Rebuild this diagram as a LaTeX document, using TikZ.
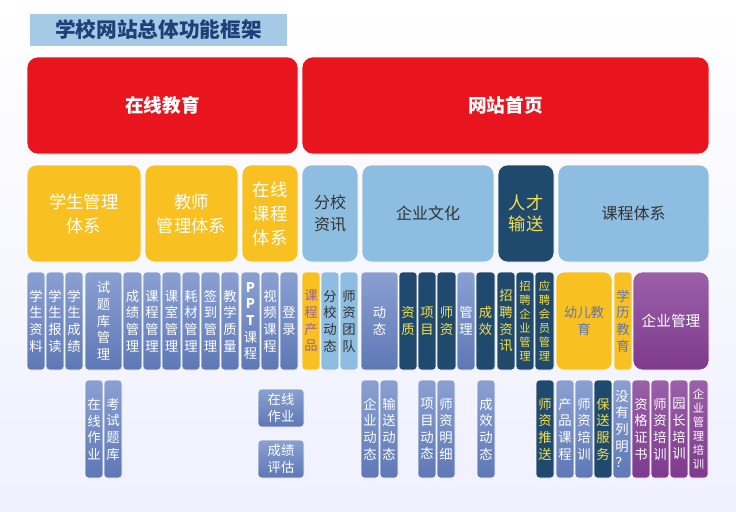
\documentclass[tikz,border=0pt]{standalone}
\usepackage{fontspec}
\setmainfont{Noto Sans CJK SC}
\definecolor{redc}{HTML}{E8141E}
\definecolor{yel}{HTML}{F8C020}
\definecolor{navy}{HTML}{1F4A6E}
\definecolor{lblue}{HTML}{8DBDE0}
\definecolor{mtop}{HTML}{8AA0D2}
\definecolor{mbot}{HTML}{5E78B6}
\definecolor{ptop}{HTML}{9A60A8}
\definecolor{pbot}{HTML}{7E3A8E}
\definecolor{ttl}{HTML}{1F3F78}
\definecolor{ytxt}{HTML}{F4E04A}
\newcommand\bx[7]{\node[#6,minimum width={(#4-#2)*0.75pt},minimum height={(#5-#3)*0.75pt}] (#1) at ({(#2+#4)/2},{(#3+#5)/2}) {#7};}
\tikzset{
 base/.style={inner sep=0pt,rounded corners=2.5pt,align=center,draw=white,line width=0.5pt,font=\fontsize{10}{12.5}\selectfont},
 red/.style={base,fill=redc,text=white,rounded corners=8pt,font=\fontsize{14}{17}\selectfont\bfseries},
 yb/.style={base,fill=yel,text=white,rounded corners=7pt,font=\fontsize{13}{18}\selectfont},
 lb/.style={base,fill=lblue,text=black!80,rounded corners=7pt,font=\fontsize{12}{16}\selectfont},
 nb/.style={base,fill=navy,text=ytxt,rounded corners=7pt,font=\fontsize{13}{16}\selectfont},
 mb/.style={base,top color=mtop,bottom color=mbot,text=white},
 nv/.style={base,fill=navy,text=ytxt},
 lbs/.style={base,fill=lblue,text=black!80},
 ys/.style={base,fill=yel,text=mbot},
 pp/.style={base,top color=ptop,bottom color=pbot,text=white},
 sm/.style={font=\fontsize{8.5}{10.5}\selectfont},
}
\begin{document}
\begin{tikzpicture}[x=0.75pt,y=-0.75pt]
\shade[top color=white,bottom color=blue!6] (0,0) rectangle (736,511);
\useasboundingbox (0,0) rectangle (736,511);
\node[fill=lblue!80,inner sep=0pt,minimum width={257*0.75pt},minimum height={32*0.75pt},text=ttl,font=\fontsize{15.5}{18}\selectfont\bfseries] (title) at (158.5,30) {学校网站总体功能框架};
% row 1
\bx{r1a}{27}{57}{298}{154}{red}{在线教育}
\bx{r1b}{302}{57}{709}{154}{red}{网站首页}
% row 2
\bx{r2a}{27}{165}{141}{262}{yb}{学生管理\\体系}
\bx{r2b}{145}{165}{238}{262}{yb}{教师\\管理体系}
\bx{r2c}{242}{165}{298}{262}{yb}{在线\\课程\\体系}
\bx{r2d}{302}{165}{358}{262}{lb}{分校\\资讯}
\bx{r2e}{362}{165}{494}{262}{lb}{企业文化}
\bx{r2f}{498}{165}{554}{262}{nb}{人才\\输送}
\bx{r2g}{558}{165}{709}{262}{lb}{课程体系}
% row 3
\bx{a1}{27}{272}{45}{370}{mb}{学\\生\\资\\料}
\bx{a2}{46}{272}{64}{370}{mb}{学\\生\\报\\读}
\bx{a3}{65}{272}{83}{370}{mb}{学\\生\\成\\绩}
\bx{a4}{85}{272}{122}{370}{mb}{试\\题\\库\\管\\理}
\bx{a5}{123}{272}{142}{370}{mb}{成\\绩\\管\\理}
\bx{a6}{143}{272}{161}{370}{mb}{课\\程\\管\\理}
\bx{a7}{162}{272}{181}{370}{mb}{课\\室\\管\\理}
\bx{a8}{182}{272}{200}{370}{mb}{耗\\材\\管\\理}
\bx{a9}{201}{272}{220}{370}{mb}{签\\到\\管\\理}
\bx{a10}{221}{272}{239}{370}{mb}{教\\学\\质\\量}
\bx{a11}{241}{272}{260}{370}{mb}{\textbf{P}\\\textbf{P}\\\textbf{T}\\课\\程}
\bx{a12}{261}{272}{279}{370}{mb}{视\\频\\课\\程}
\bx{a13}{280}{272}{298}{370}{mb}{登\\录}
\bx{b1}{302}{272}{320}{370}{ys,text=ptop}{课\\程\\产\\品}
\bx{b2}{321}{272}{339}{370}{lbs}{分\\校\\动\\态}
\bx{b3}{340}{272}{358}{370}{lbs}{师\\资\\团\\队}
\bx{b4}{361}{272}{398}{370}{mb}{动\\态}
\bx{b5}{399}{272}{417}{370}{nv}{资\\质}
\bx{b6}{418}{272}{436}{370}{nv}{项\\目}
\bx{b7}{437}{272}{456}{370}{nv}{师\\资}
\bx{b8}{457}{272}{475}{370}{mb}{管\\理}
\bx{b9}{476}{272}{495}{370}{nv}{成\\效}
\bx{c1}{497}{272}{515}{370}{nv}{招\\聘\\资\\讯}
\bx{c2}{516}{272}{534}{370}{nv,sm}{招\\聘\\企\\业\\管\\理}
\bx{c3}{535}{272}{554}{370}{nv,sm}{应\\聘\\会\\员\\管\\理}
\bx{c4}{556}{272}{612}{370}{ys,rounded corners=6pt}{幼儿教\\育}
\bx{c5}{614}{272}{632}{370}{ys}{学\\历\\教\\育}
\bx{c6}{633}{272}{709}{370}{pp,rounded corners=7pt,font=\fontsize{11}{14}\selectfont}{企业管理}
% row 4
\bx{d1}{85}{380}{103}{478}{mb}{在\\线\\作\\业}
\bx{d2}{104}{380}{122}{478}{mb}{考\\试\\题\\库}
\bx{d3}{258}{389}{304}{427}{mb}{在线\\作业}
\bx{d4}{258}{440}{304}{478}{mb}{成绩\\评估}
\bx{d5}{361}{380}{379}{478}{mb}{企\\业\\动\\态}
\bx{d6}{380}{380}{398}{478}{mb}{输\\送\\动\\态}
\bx{d7}{418}{380}{436}{478}{mb}{项\\目\\动\\态}
\bx{d8}{437}{380}{455}{478}{mb}{师\\资\\明\\细}
\bx{d9}{477}{380}{495}{478}{mb}{成\\效\\动\\态}
\bx{e1}{536}{380}{554}{478}{nv}{师\\资\\推\\送}
\bx{e2}{556}{380}{574}{478}{mb}{产\\品\\课\\程}
\bx{e3}{575}{380}{593}{478}{mb}{师\\资\\培\\训}
\bx{e4}{594}{380}{612}{478}{nv}{保\\送\\服\\务}
\bx{e5}{613}{380}{631}{478}{mb}{没\\有\\列\\明\\？}
\bx{e6}{632}{380}{650}{478}{pp}{资\\格\\证\\书}
\bx{e7}{651}{380}{669}{478}{pp}{师\\资\\培\\训}
\bx{e8}{670}{380}{688}{478}{pp}{园\\长\\培\\训}
\bx{e9}{689}{380}{708}{478}{pp,sm}{企\\业\\管\\理\\培\\训}
\end{tikzpicture}
\end{document}
